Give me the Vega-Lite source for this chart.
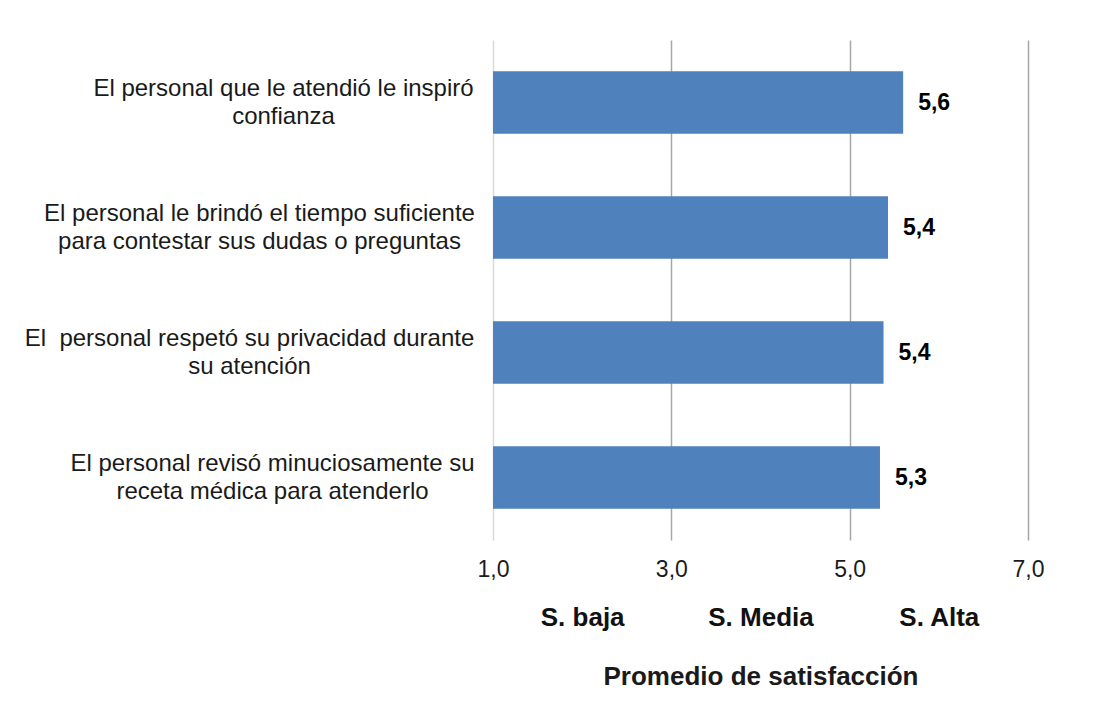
{
  "$schema": "https://vega.github.io/schema/vega-lite/v6.json",
  "autosize": "none",
  "width": 535,
  "height": 500,
  "padding": {"left": 493, "top": 40, "right": 92, "bottom": 171},
  "background": "white",
  "config": {
    "locale": {"number": {"decimal": ",", "thousands": ".", "grouping": [3], "currency": ["", " €"]}},
    "view": {"stroke": null},
    "font": "Liberation Sans"
  },
  "data": {
    "values": [
      {"pregunta": "El personal que le atendió le inspiró|confianza", "valor": 5.6},
      {"pregunta": "El personal le brindó el tiempo suficiente|para contestar sus dudas o preguntas", "valor": 5.43},
      {"pregunta": "El\u00a0 personal respetó su privacidad durante|su atención", "valor": 5.38},
      {"pregunta": "El personal revisó minuciosamente su|receta médica para atenderlo", "valor": 5.34}
    ]
  },
  "layer": [
    {
      "mark": {"type": "bar", "color": "#4F81BD"},
      "encoding": {
        "y": {
          "field": "pregunta",
          "type": "nominal",
          "sort": null,
          "scale": {"paddingInner": 0.5, "paddingOuter": 0.25},
          "axis": {
            "title": null,
            "domain": false,
            "ticks": false,
            "labelExpr": "split(datum.value, '|')",
            "labelAlign": "center",
            "labelBaseline": "middle",
            "labelFontSize": 24,
            "labelLineHeight": 28,
            "labelOffset": -14,
            "labelColor": "#1a1a1a",
            "labelLimit": 0,
            "labelPadding": {
              "condition": [
                {"test": "indexof(datum.value, 'inspiró') >= 0", "value": 210},
                {"test": "indexof(datum.value, 'brindó') >= 0", "value": 234},
                {"test": "indexof(datum.value, 'respetó') >= 0", "value": 244}
              ],
              "value": 221
            }
          }
        },
        "x": {
          "field": "valor",
          "type": "quantitative",
          "scale": {"domain": [1, 7], "nice": false, "zero": false},
          "axis": {
            "orient": "bottom",
            "values": [1, 3, 5, 7],
            "format": ".1f",
            "title": null,
            "domain": false,
            "ticks": false,
            "grid": true,
            "gridColor": {"condition": {"test": "datum.value == 1", "value": "#d9d9d9"}, "value": "#a6a6a6"},
            "gridWidth": 1.5,
            "labelFlush": false,
            "labelFontSize": 23,
            "labelBaseline": "middle",
            "labelPadding": 29,
            "labelColor": "#1a1a1a"
          }
        },
        "x2": {"datum": 1}
      }
    },
    {
      "mark": {"type": "text", "align": "left", "baseline": "middle", "dx": 15, "fontSize": 23, "fontWeight": "bold", "color": "#000000"},
      "encoding": {
        "y": {"field": "pregunta", "type": "nominal", "sort": null},
        "x": {"field": "valor", "type": "quantitative", "scale": {"domain": [1, 7], "nice": false, "zero": false}, "axis": null},
        "text": {"field": "valor", "type": "quantitative", "format": ".1f"}
      }
    },
    {
      "mark": {"type": "rule", "opacity": 0},
      "encoding": {
        "x": {
          "field": "valor",
          "type": "quantitative",
          "scale": {"domain": [1, 7], "nice": false, "zero": false},
          "axis": {
            "orient": "bottom",
            "values": [2, 4, 6],
            "labelExpr": "datum.value == 2 ? 'S. baja' : datum.value == 4 ? 'S. Media' : 'S. Alta'",
            "domain": false,
            "ticks": false,
            "grid": false,
            "labelFlush": false,
            "labelFontSize": 26,
            "labelFontWeight": "bold",
            "labelBaseline": "middle",
            "labelPadding": 77,
            "labelColor": "#111111",
            "title": "Promedio de satisfacción",
            "titleFontSize": 26,
            "titleFontWeight": "bold",
            "titleColor": "#1a1a1a",
            "titlePadding": 33
          }
        }
      }
    }
  ],
  "resolve": {"scale": {"x": "independent"}, "axis": {"x": "independent"}}
}
